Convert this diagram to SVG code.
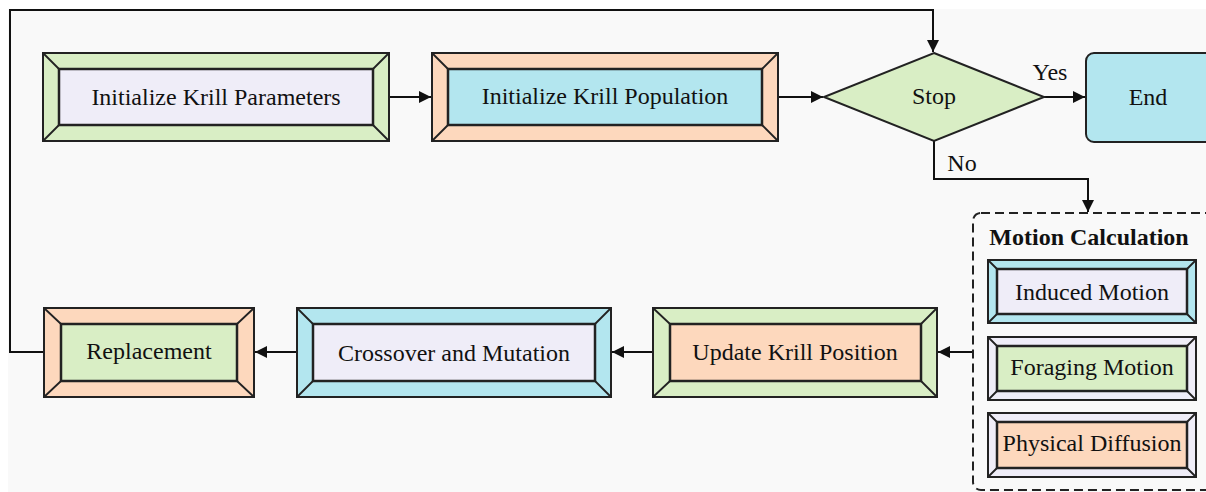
<svg xmlns="http://www.w3.org/2000/svg" width="1206" height="492" viewBox="0 0 1206 492">
<defs>
<style>
.o{stroke:#222;stroke-width:2}
.i{stroke:#222;stroke-width:2.5}
.d{stroke:#222;stroke-width:1.8;fill:none}
.t{font-family:"Liberation Serif","Times New Roman",serif;font-size:24px;fill:#111;text-anchor:middle}
.c{stroke:#111;stroke-width:2;fill:none}
.g{fill:#d9eec5}.p{fill:#fdd8bd}.b{fill:#b3e6ef}.l{fill:#efedf8}
</style>
<marker id="ah" markerUnits="userSpaceOnUse" markerWidth="14" markerHeight="12" refX="12" refY="6" orient="auto">
<path d="M0,0 L12,6 L0,12 Z" fill="#111"/>
</marker>
</defs>
<rect x="0" y="0" width="1206" height="492" fill="#ffffff"/>
<rect x="8" y="9" width="1198" height="483" fill="#f9f9f9"/>

<g id="connectors">
<path class="c" d="M389,97 H431" marker-end="url(#ah)"/>
<path class="c" d="M778,97 H823" marker-end="url(#ah)"/>
<path class="c" d="M1044,97 H1085" marker-end="url(#ah)"/>
<path class="c" d="M934,141 V179 H1088 V212" marker-end="url(#ah)"/>
<path class="c" d="M973,352 H938" marker-end="url(#ah)"/>
<path class="c" d="M653,352 H612" marker-end="url(#ah)"/>
<path class="c" d="M297,352 H255" marker-end="url(#ah)"/>
<path class="c" d="M44,352 H10 V10 H933 V52" marker-end="url(#ah)"/>
<text class="t" x="1050" y="80">Yes</text>
<text class="t" x="962" y="171">No</text>
</g>

<g id="n1">
<rect class="o g" x="43" y="53" width="346" height="88"/>
<rect class="i l" x="59" y="69" width="314" height="56"/>
<path class="d" d="M43,53 L59,69 M389,53 L373,69 M43,141 L59,125 M389,141 L373,125"/>
<text class="t" x="216" y="105">Initialize Krill Parameters</text>
</g>

<g id="n2">
<rect class="o p" x="432" y="53" width="346" height="88"/>
<rect class="i b" x="448" y="69" width="314" height="56"/>
<path class="d" d="M432,53 L448,69 M778,53 L762,69 M432,141 L448,125 M778,141 L762,125"/>
<text class="t" x="605" y="104">Initialize Krill Population</text>
</g>

<g id="stop">
<polygon class="o g" points="934,53 1044,97 934,141 824,97"/>
<text class="t" x="934" y="104">Stop</text>
</g>

<g id="end">
<rect class="o b" x="1086" y="53" width="140" height="89" rx="8"/>
<text class="t" x="1148" y="105">End</text>
</g>

<g id="motion">
<rect x="973" y="213" width="260" height="277" rx="8" fill="none" stroke="#222" stroke-width="2" stroke-dasharray="9,5"/>
<text class="t" x="1089" y="245" style="font-weight:bold">Motion Calculation</text>
</g>

<g id="induced">
<rect class="o b" x="988" y="260" width="208" height="63"/>
<rect class="i l" x="997" y="269" width="190" height="45"/>
<path class="d" d="M988,260 L997,269 M1196,260 L1187,269 M988,323 L997,314 M1196,323 L1187,314"/>
<text class="t" x="1092" y="300">Induced Motion</text>
</g>

<g id="foraging">
<rect class="o l" x="988" y="337" width="208" height="63"/>
<rect class="i g" x="997" y="346" width="190" height="45"/>
<path class="d" d="M988,337 L997,346 M1196,337 L1187,346 M988,400 L997,391 M1196,400 L1187,391"/>
<text class="t" x="1092" y="375">Foraging Motion</text>
</g>

<g id="physical">
<rect class="o l" x="988" y="413" width="208" height="64"/>
<rect class="i p" x="997" y="422" width="190" height="46"/>
<path class="d" d="M988,413 L997,422 M1196,413 L1187,422 M988,477 L997,468 M1196,477 L1187,468"/>
<text class="t" x="1092" y="451">Physical Diffusion</text>
</g>

<g id="update">
<rect class="o g" x="653" y="308" width="284" height="89"/>
<rect class="i p" x="670" y="324" width="251" height="57"/>
<path class="d" d="M653,308 L670,324 M937,308 L921,324 M653,397 L670,381 M937,397 L921,381"/>
<text class="t" x="795" y="360">Update Krill Position</text>
</g>

<g id="crossover">
<rect class="o b" x="297" y="308" width="314" height="89"/>
<rect class="i l" x="313" y="324" width="282" height="57"/>
<path class="d" d="M297,308 L313,324 M611,308 L595,324 M297,397 L313,381 M611,397 L595,381"/>
<text class="t" x="454" y="361">Crossover and Mutation</text>
</g>

<g id="replacement">
<rect class="o p" x="44" y="308" width="210" height="89"/>
<rect class="i g" x="61" y="324" width="176" height="57"/>
<path class="d" d="M44,308 L61,324 M254,308 L237,324 M44,397 L61,381 M254,397 L237,381"/>
<text class="t" x="149" y="359">Replacement</text>
</g>
</svg>
